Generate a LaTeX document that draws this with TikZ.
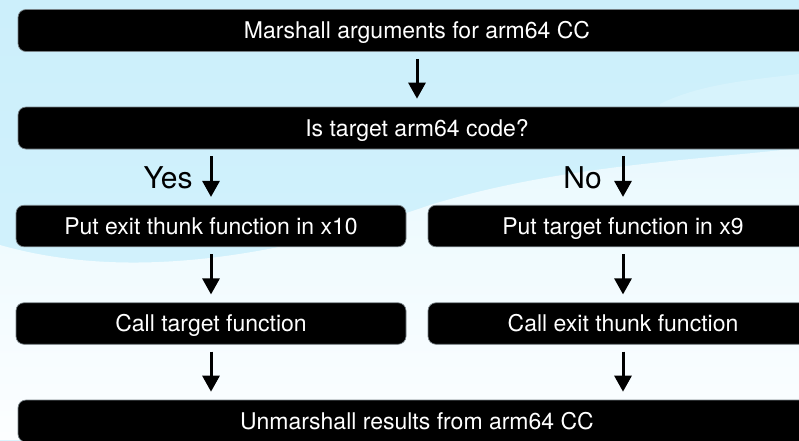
\documentclass[tikz,border=0pt]{standalone}
\usepackage{fontspec}
\setmainfont{TeX Gyre Heros}
\usetikzlibrary{arrows.meta,calc}

\definecolor{skytop}{RGB}{204,239,251}
\definecolor{skymid}{RGB}{212,243,253}
\definecolor{wavetop}{RGB}{234,249,254}
\definecolor{wavebot}{RGB}{252,254,255}
\definecolor{boxedge}{RGB}{120,130,135}

\tikzset{
  flowbox/.style={fill=black, draw=boxedge, line width=0.7pt, rounded corners=8pt,
    text=white, font=\fontsize{23}{27}\selectfont, inner sep=0pt, anchor=center,
    text height=16.4pt, text depth=0pt},
  widebox/.style={flowbox, minimum width=798pt, minimum height=42pt},
  halfbox/.style={flowbox, minimum width=390pt, minimum height=41.5pt},
  flowarrow/.style={line width=3pt, -{Triangle[length=16pt,width=17pt]},
    shorten <=7pt, shorten >=8pt},
  branchlabel/.style={font=\fontsize{30}{34}\selectfont, inner sep=0pt, anchor=center,
    text height=21.5pt, text depth=0pt}
}

\begin{document}
\begin{tikzpicture}[x=1pt,y=-1pt]
  \useasboundingbox (0,0) rectangle (799,440);
  \clip (0,0) rectangle (799,440);

  % sky background
  \shade[top color=skytop, bottom color=skymid] (0,0) rectangle (799,440);
  % pale wave across the lower part
  \shade[top color=wavetop, bottom color=wavebot]
    (0,245) .. controls (140,285) and (300,250) .. (430,205)
    .. controls (560,165) and (700,160) .. (799,148)
    -- (799,440) -- (0,440) -- cycle;
  % faint crest at the upper right
  \fill[wavetop, opacity=0.35]
    (660,104) .. controls (700,84) and (750,80) .. (799,74)
    -- (799,106) -- (660,106) -- cycle;

  % steps
  \node[widebox] (marshall) at (417,30.5) {Marshall arguments for arm64 CC};
  \node[widebox] (check) at (417,128) {Is target arm64 code?};
  \node[halfbox] (putexit) at (211,226) {Put exit thunk function in x10};
  \node[halfbox] (puttarget) at (623,226) {Put target function in x9};
  \node[halfbox] (calltarget) at (211,323.5) {Call target function};
  \node[halfbox] (callexit) at (623,323.5) {Call exit thunk function};
  \node[widebox] (unmarshall) at (417,421) {Unmarshall results from arm64 CC};

  % branch labels
  \node[branchlabel] (yes) at (168,178) {Yes};
  \node[branchlabel] (no) at (582.5,178) {No};

  % connectors
  \draw[flowarrow] (marshall.south) -- (check.north);
  \draw[flowarrow] (putexit.north |- check.south) -- (putexit.north);
  \draw[flowarrow] (puttarget.north |- check.south) -- (puttarget.north);
  \draw[flowarrow] (putexit.south) -- (calltarget.north);
  \draw[flowarrow] (puttarget.south) -- (callexit.north);
  \draw[flowarrow] (calltarget.south) -- (calltarget.south |- unmarshall.north);
  \draw[flowarrow] (callexit.south) -- (callexit.south |- unmarshall.north);
\end{tikzpicture}
\end{document}
